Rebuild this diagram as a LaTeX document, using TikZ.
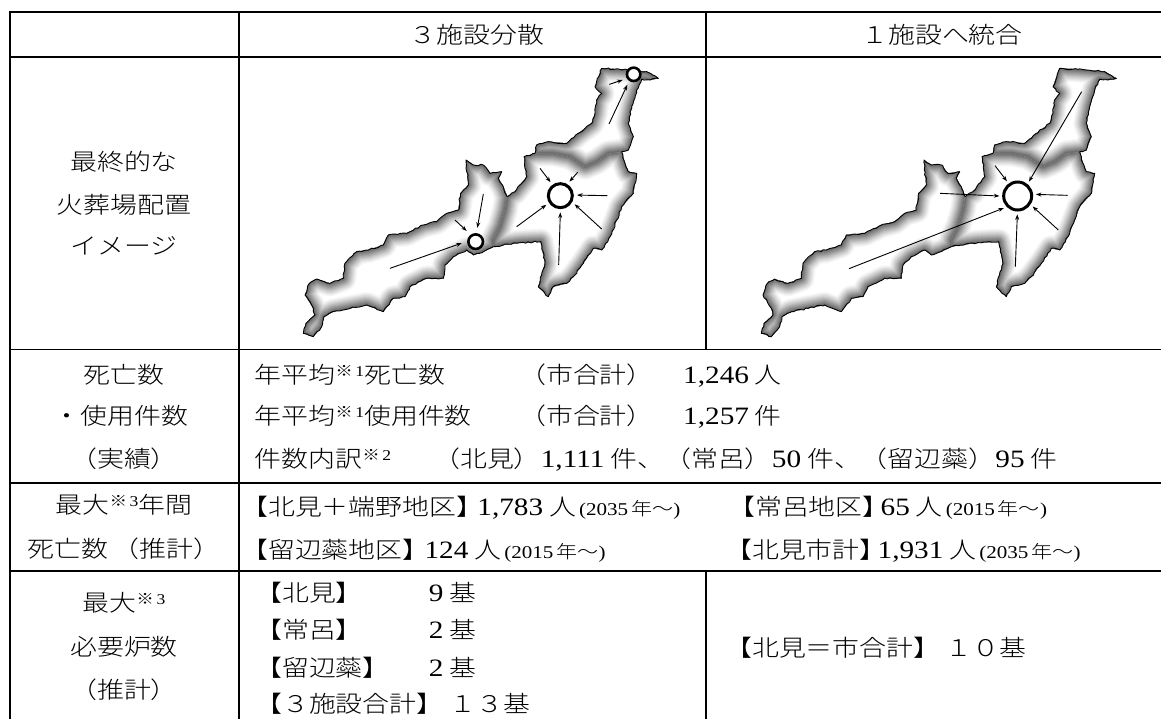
\documentclass[tikz,border=0pt]{standalone}
\usepackage{fontspec}
\usetikzlibrary{arrows.meta,decorations.pathmorphing}
\newfontfamily\jp[FakeStretch=1.17]{Noto Sans CJK JP Light}
\newfontfamily\lsr[FakeStretch=1.17]{Liberation Serif}
\newcommand{\sz}[1]{\fontsize{#1}{#1}\selectfont}
\newcommand{\dg}[1]{{\sz{25}\lsr #1}}
\newcommand{\sm}[1]{\raisebox{7.5pt}{\sz{15}\jp ※\lsr\,#1}}
\newcommand{\yr}[1]{{\sz{18}\lsr(#1\,\jp 年〜\lsr)}}
\newcommand{\lpr}{^^^^ff08}
\newcommand{\rpr}{^^^^ff09}
\newcommand{\fplus}{^^^^ff0b}
\newcommand{\feq}{^^^^ff1d}
\newcommand{\fzero}{^^^^ff10}
\newcommand{\fone}{^^^^ff11}
\newcommand{\fthree}{^^^^ff13}
\def\Wout{(862,440)--(850,410)--(835,385)--(845,365)--(810,370)--(790,345)--(760,345)--(738,330)--(745,405)--(722,430)--(715,480)--(680,490)--(650,515)--(610,525)--(560,550)--(505,555)--(490,585)--(445,600)--(410,605)--(375,640)--(370,685)--(330,700)--(290,687)--(268,700)--(255,735)--(280,775)--(285,795)--(258,820)--(250,850)--(280,860)--(305,830)--(312,800)--(340,785)--(390,775)--(440,765)--(490,785)--(520,745)--(555,740)--(570,710)--(620,685)--(670,685)--(675,645)--(700,620)--(740,600)--(760,615)--(790,605)--(820,590)}
\def\Bwc{(820,590)--(820,570)--(840,530)--(855,480)--(862,440)}
\def\CoutA{(862,440)--(885,425)--(920,380)--(912,320)--(945,310)}
\def\Bnc{(945,310)--(1000,310)--(1050,320)--(1095,350)--(1130,335)--(1165,310)--(1205,305)}
\def\CoutB{(1205,305)--(1215,340)--(1225,365)--(1250,370)--(1240,430)--(1205,470)--(1190,510)--(1170,560)--(1145,600)--(1120,595)--(1090,640)--(1060,680)--(1040,700)--(1000,710)--(985,740)--(955,710)--(975,640)--(962,575)--(900,578)--(850,585)--(820,590)}
\def\Nout{(1205,305)--(1225,300)--(1240,260)--(1225,220)--(1235,170)--(1250,120)--(1265,88)--(1290,90)--(1315,85)--(1280,65)--(1225,60)--(1200,58)--(1145,55)--(1125,110)--(1145,130)--(1130,150)--(1125,190)--(1115,220)--(1075,250)--(1040,280)--(985,275)--(950,285)--(945,310)}
\newcommand{\region}[1]{%
  \begin{scope}
    \clip #1;
    \fill[white] #1;
    \foreach \w/\g in {26/3,24/6,22/10,20/14,18/18,16/23,14/28,12/33,10/38,8/43,6/48,4/53,2/58}{
      \draw[line width=\w pt,line join=round,black!\g!white] #1;
    }
  \end{scope}}
\newcommand{\mapshape}{%
  \region{\Wout -- \Bwc -- cycle}
  \region{\CoutA -- \Bnc -- \CoutB -- \Bwc -- cycle}
  \region{\Nout -- \Bnc -- cycle}
  \draw[inner] \Bwc;
  \draw[inner] \Bnc;
  \draw[outerline] \Wout;
  \draw[outerline] \CoutA;
  \draw[outerline] \CoutB;
  \draw[outerline] \Nout;
}
\tikzset{
  rule/.style={line width=1.8pt,black,line cap=rect},
  t/.style={anchor=west,inner sep=0pt,text height=20.5pt,text depth=3pt,font=\sz{23}\jp},
  c/.style={t,anchor=center},
  inner/.style={line width=.8pt,black!55},
  outerline/.style={line width=.9pt,black,line join=round,decorate,decoration={random steps,segment length=3pt,amplitude=.8pt}},
  arrowline/.style={line width=.9pt,black,-{Stealth[length=5.5pt,width=4pt]}},
  hub/.style={circle,draw=black,fill=white,inner sep=0pt}
}
\begin{document}
\begin{tikzpicture}[x=1pt,y=-1pt]
\useasboundingbox (0,0) rectangle (1161,718);
\fill[white] (0,0) rectangle (1161,718);
% maps
\begin{scope}[shift={(220,50)},x=.33333pt,y=-.33333pt]
  \mapshape
  \node[hub,line width=3pt,minimum size=24pt,outer sep=4.7pt] (hubA) at (1021,437) {};
  \node[hub,line width=2.6pt,minimum size=14.6pt,outer sep=6.7pt] (hubB) at (767,575) {};
  \node[hub,line width=2.6pt,minimum size=13.4pt,outer sep=5.6pt] (hubC) at (1241,73) {};
  \foreach \n/\u/\v/\a in {a1/960/355/126,a2/1073/367/57,a3/1162/437/2,a4/1145/537/-31,a5/1016/645/-90,a6/890/530/213}{
    \coordinate (\n) at (\u,\v); \draw[arrowline] (\n) -- (hubA.\a);}
  \foreach \n/\u/\v/\a in {b1/510/655/186,b2/705/510/130,b3/790/432/83}{
    \coordinate (\n) at (\u,\v); \draw[arrowline] (\n) -- (hubB.\a);}
  \foreach \n/\u/\v/\a in {c1/1168/103/207,c2/1167/222/239}{
    \coordinate (\n) at (\u,\v); \draw[arrowline] (\n) -- (hubC.\a);}
\end{scope}
\begin{scope}[shift={(678,50)},x=.33333pt,y=-.33333pt]
  \mapshape
\end{scope}
\begin{scope}[shift={(700,50)},x=.33333pt,y=-.33333pt]
  \node[hub,line width=3pt,minimum size=28pt,outer sep=4.3pt] (hubD) at (953,438) {};
  \foreach \n/\u/\v/\a in {d1/1145/125/52,d2/885/347/126,d3/1103/436/5,d4/1075/540/-35,d5/946/650/-91,d6/447/656/221,d7/720/430/180}{
    \coordinate (\n) at (\u,\v); \draw[arrowline] (\n) -- (hubD.\a);}
\end{scope}
% grid
\foreach \y in {12,57,349.5,482.7,570.7}{\draw[rule] (9.6,\y) -- (1161,\y);}
\draw[rule] (9.6,12) -- (9.6,718);
\draw[rule] (239,12) -- (239,718);
\draw[rule] (706,12) -- (706,349.5);
\draw[rule] (706,570.7) -- (706,718);
% header
\node[c] (h1) at (477,35) {\fthree{}施設分散};
\node[c] (h2) at (942,35) {\fone{}施設へ統合};
% left column
\node[c] (l1) at (124,162) {最終的な};
\node[c] (l2) at (124,205) {火葬場配置};
\node[c] (l3) at (124,246) {イメージ};
\node[c] (l4) at (124,375) {死亡数};
\node[c] (l5) at (121,416) {・使用件数};
\node[c] (l6) at (124,459) {\lpr{}実績\rpr};
\node[c] (l7) at (124,505) {最大\sm{3}年間};
\node[t] (l8) at (27,549) {死亡数\kern5pt\lpr{}推計\rpr};
\node[c] (l9) at (124,603) {最大\sm{3}};
\node[c] (l10) at (124,647) {必要炉数};
\node[c] (l11) at (124,690) {\lpr{}推計\rpr};
% row 3
\node[t] (a1t) at (254.5,375) {年平均\sm{1}死亡数};
\node[t] (a2t) at (519,375) {\lpr{}市合計\rpr};
\node[t] (a3t) at (683,375) {\dg{1,246} 人};
\node[t] (b1t) at (254.5,416) {年平均\sm{1}使用件数};
\node[t] (b2t) at (519,416) {\lpr{}市合計\rpr};
\node[t] (b3t) at (683,416) {\dg{1,257} 件};
\node[t] (d1t) at (254.5,459) {件数内訳\sm{2}};
\node[t] (d2t) at (433,459) {\lpr{}北見\rpr\dg{1,111} 件、\lpr{}常呂\rpr\dg{50} 件、\lpr{}留辺蘂\rpr\dg{95} 件};
% row 4
\node[t] (e1t) at (241,507) {【北見\fplus{}端野地区】\kern-6pt\dg{1,783} 人\kern3pt\yr{2035}};
\node[t] (e2t) at (728,507) {【常呂地区】\kern-9pt\dg{65} 人\kern3pt\yr{2015}};
\node[t] (f1t) at (241,550) {【留辺蘂地区】\kern-5pt\dg{124} 人\kern3pt\yr{2015}};
\node[t] (f2t) at (725,550) {【北見市計】\kern-9pt\dg{1,931} 人\kern3pt\yr{2035}};
% row 5
\node[t] (g1t) at (255,593) {【北見】};
\node[t] (g2t) at (428.6,593) {\dg{9} 基};
\node[t] (g3t) at (255,630) {【常呂】};
\node[t] (g4t) at (428.6,630) {\dg{2} 基};
\node[t] (g5t) at (255,668) {【留辺蘂】};
\node[t] (g6t) at (428.6,668) {\dg{2} 基};
\node[t] (g7t) at (255,704) {【\fthree{}施設合計】\kern6pt\fone\fthree{}基};
\node[t] (g8t) at (725,648) {【北見\feq{}市合計】\kern5pt\fone\fzero{}基};
\end{tikzpicture}
\end{document}
